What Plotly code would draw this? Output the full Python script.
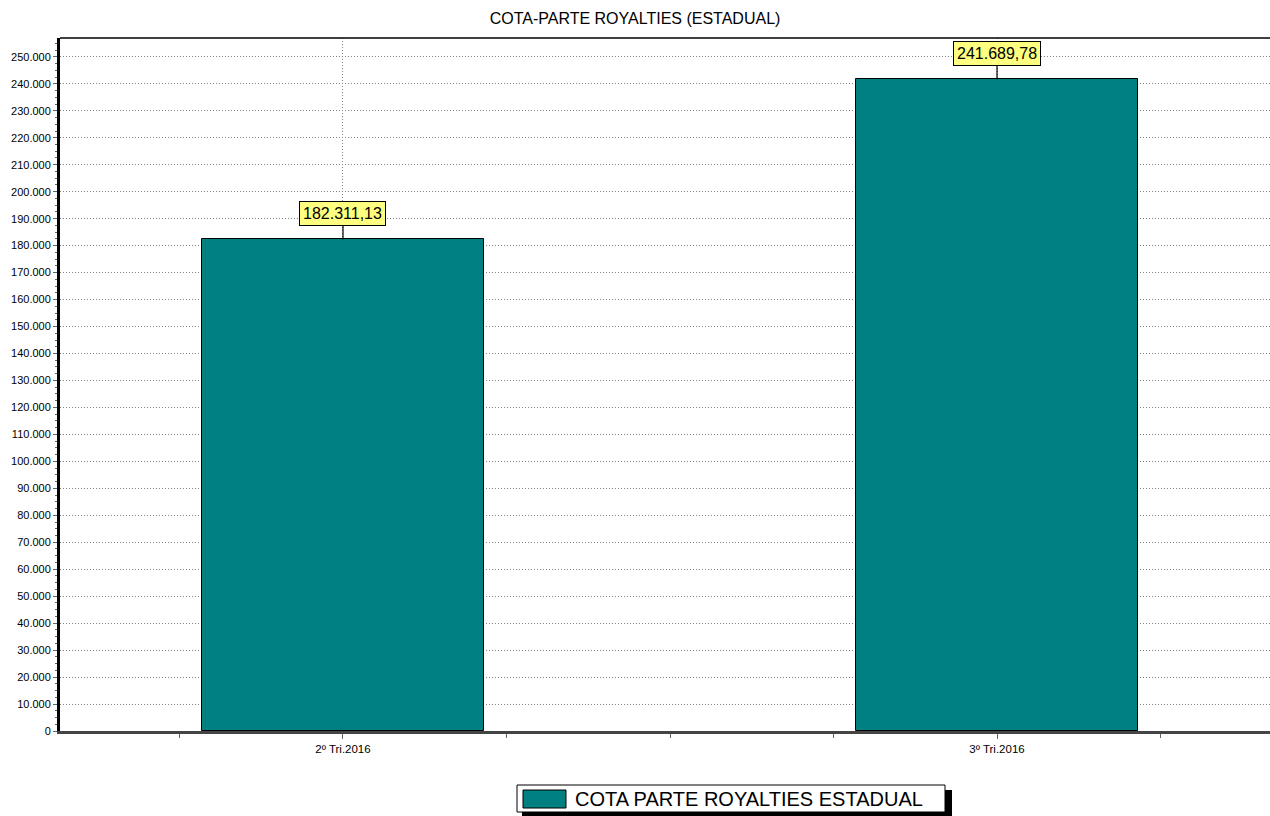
import plotly.graph_objects as go

categories = ["2º Tri.2016", "3º Tri.2016"]
values = [182311.13, 241689.78]
labels = ["182.311,13", "241.689,78"]
series_name = "COTA PARTE ROYALTIES ESTADUAL"
title = "COTA-PARTE ROYALTIES (ESTADUAL)"
bar_color = "#008080"

xpos = list(range(len(categories)))

W, H = 1270, 816
ML, MR, MT, MB = 60, 0, 38, 85
PW, PH = W - ML - MR, H - MT - MB


def px(x):
    return (x - ML) / PW


def py(y):
    return (H - MB - y) / PH


fig = go.Figure()
fig.add_trace(go.Bar(
    x=xpos, y=values, name=series_name, width=0.431,
    marker=dict(color=bar_color, line=dict(color="black", width=1)),
    showlegend=False, hoverinfo="skip",
))

for xv, yv, lab in zip(xpos, values, labels):
    fig.add_annotation(
        x=xv, y=yv, text=lab, showarrow=True, arrowhead=0, arrowwidth=1.2,
        arrowcolor="black", ax=0, ay=-26, standoff=0,
        bgcolor="#ffff80", bordercolor="black", borderwidth=1, borderpad=3,
        font=dict(family="Arial, Liberation Sans", size=16, color="black"),
    )

# legend (drawn manually to match the large swatch and shadow)
shapes = [
    dict(type="rect", xref="paper", yref="paper", x0=px(522), x1=px(952), y0=py(790), y1=py(818),
         fillcolor="black", line=dict(width=0), layer="above"),
    dict(type="rect", xref="paper", yref="paper", x0=px(517), x1=px(945), y0=py(785), y1=py(812),
         fillcolor="white", line=dict(color="black", width=1), layer="above"),
    dict(type="rect", xref="paper", yref="paper", x0=px(523), x1=px(566), y0=py(790), y1=py(808),
         fillcolor=bar_color, line=dict(color="black", width=1), layer="above"),
    dict(type="line", xref="paper", yref="paper", x0=0, x1=1, y0=1, y1=1,
         line=dict(color="black", width=1.5)),
]
fig.add_annotation(
    xref="paper", yref="paper", x=px(573), y=py(799), xanchor="left", yanchor="middle",
    text=series_name, showarrow=False,
    font=dict(family="Arial, Liberation Sans", size=20, color="black"),
)

fig.update_layout(
    width=W, height=H,
    margin=dict(l=ML, r=MR, t=MT, b=MB),
    paper_bgcolor="white", plot_bgcolor="white",
    separators=",.",
    title=dict(text=title, x=0.5, xref="container", xanchor="center", y=1 - 18 / H, yref="container",
               yanchor="middle",
               font=dict(family="Arial, Liberation Sans", size=16, color="black")),
    font=dict(family="Arial, Liberation Sans", color="black"),
    showlegend=False,
    shapes=shapes,
    xaxis=dict(
        range=[-0.4327, 1.4174], tickvals=xpos, ticktext=categories,
        showgrid=True, gridcolor="#808080", griddash="1px,2px", gridwidth=1,
        ticks="outside", ticklen=5, tickcolor="#666666",
        minor=dict(dtick=0.25, tick0=0, ticks="outside", ticklen=4, tickcolor="#666666", showgrid=False),
        showline=True, linecolor="#444444", linewidth=3,
        tickfont=dict(size=11.5), zeroline=False, automargin=False,
    ),
    yaxis=dict(
        range=[0, 257000], dtick=10000, tick0=0, tickformat=",d",
        showgrid=True, gridcolor="#808080", griddash="1px,2px", gridwidth=1,
        ticks="outside", ticklen=4, tickcolor="#666666",
        minor=dict(dtick=2500, ticks="outside", ticklen=2, tickcolor="#666666", showgrid=False),
        showline=True, linecolor="black", linewidth=3,
        tickfont=dict(size=11), zeroline=False, automargin=False,
    ),
    bargap=0,
)

fig.write_html(
    "out.html",
    config={"displayModeBar": False},
    post_script="document.body.style.margin='0';document.body.style.overflow='hidden';",
)
